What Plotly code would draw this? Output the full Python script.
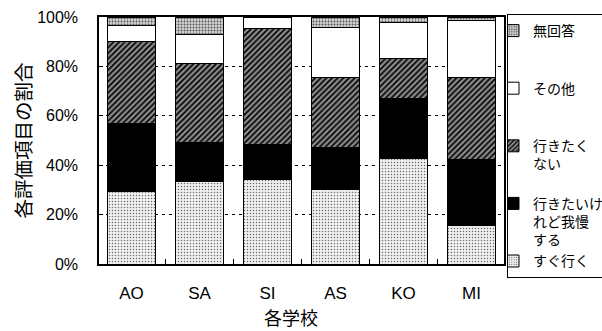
import plotly.graph_objects as go

# Schools and response shares (%), stacked bottom to top
schools = ["AO", "SA", "SI", "AS", "KO", "MI"]
go_now = [29.5, 33.6, 34.2, 30.1, 42.7, 15.6]          # すぐ行く
want_but_wait = [27.4, 15.4, 14.2, 16.9, 24.3, 26.8]   # 行きたいけれど我慢する
dont_want = [33.1, 32.2, 47.0, 28.5, 16.0, 33.0]       # 行きたくない
other = [6.6, 11.8, 4.6, 20.2, 14.8, 23.0]             # その他
no_answer = [3.4, 7.0, 0.0, 4.3, 2.2, 1.6]             # 無回答

y_ticks = [0, 20, 40, 60, 80, 100]
y_tick_labels = ["0%", "20%", "40%", "60%", "80%", "100%"]

FONT = "Liberation Sans, Noto Sans CJK JP, sans-serif"
JP = "Noto Sans CJK JP"
BAR_W = 0.72

# Legend labels are padded to three lines so the entries sit at an even pitch
series = [
    ("すぐ行く", go_now,
     dict(color="white", pattern=dict(shape=".", fgcolor="#6a6a6a", bgcolor="#f0f0f0",
                                      size=3, solidity=0.2, fillmode="replace"))),
    ("行きたいけ<br>れど我慢<br>する", want_but_wait, dict(color="black")),
    ("行きたく<br>ない<br> ", dont_want,
     dict(color="#777", pattern=dict(shape="/", fgcolor="#000", bgcolor="#8c8c8c",
                                     size=4, solidity=0.42, fillmode="replace"))),
    ("その他<br> <br> ", other, dict(color="white")),
    ("無回答<br> <br> ", no_answer,
     dict(color="#ccc", pattern=dict(shape=".", fgcolor="#555", bgcolor="#d4d4d4",
                                     size=3, solidity=0.35, fillmode="replace"))),
]

fig = go.Figure()
for name, vals, marker in series:
    m = dict(marker)
    m["line"] = dict(color="black", width=1)
    fig.add_trace(go.Bar(
        x=schools, y=vals, name=name, width=BAR_W,
        marker=m, hoverinfo="skip",
    ))

fig.update_layout(
    width=602, height=331,
    margin=dict(l=99, r=98, t=17, b=67, autoexpand=False),
    barmode="stack",
    paper_bgcolor="white", plot_bgcolor="white",
    font=dict(family=FONT, color="black", size=16),
    showlegend=True,
    legend=dict(
        x=(507 - 99) / 405, xanchor="left", y=(264 - 14) / 247, yanchor="top",
        traceorder="reversed", valign="top",
        bordercolor="black", borderwidth=1, bgcolor="white",
        font=dict(size=14, family=JP),
        indentation=-15, maxheight=320,
    ),
    xaxis=dict(
        type="category", range=[-0.478, 5.478],
        showline=True, linecolor="black", linewidth=1.5, mirror=True,
        ticks="inside", ticklen=5, tickcolor="black", tickson="boundaries",
        showgrid=False, tickfont=dict(size=17),
        ticklabelstandoff=13,
    ),
    yaxis=dict(
        range=[0, 100], tickvals=y_ticks, ticktext=y_tick_labels,
        showline=True, linecolor="black", linewidth=1.5, mirror=True,
        ticks="inside", ticklen=4, tickcolor="black",
        showgrid=True, gridcolor="black", gridwidth=1, griddash="3px,4px",
        zeroline=False, tickfont=dict(size=16),
        ticklabelstandoff=16,
        title=dict(text="各評価項目の割合", font=dict(size=19.5, family=JP), standoff=0),
    ),
    annotations=[dict(
        text="各学校", xref="paper", yref="paper", x=(291 - 99) / 405, y=-(317 - 264) / 247,
        xanchor="center", yanchor="middle", showarrow=False,
        font=dict(size=18, family=JP),
    )],
)

fig.write_html("out.html")
